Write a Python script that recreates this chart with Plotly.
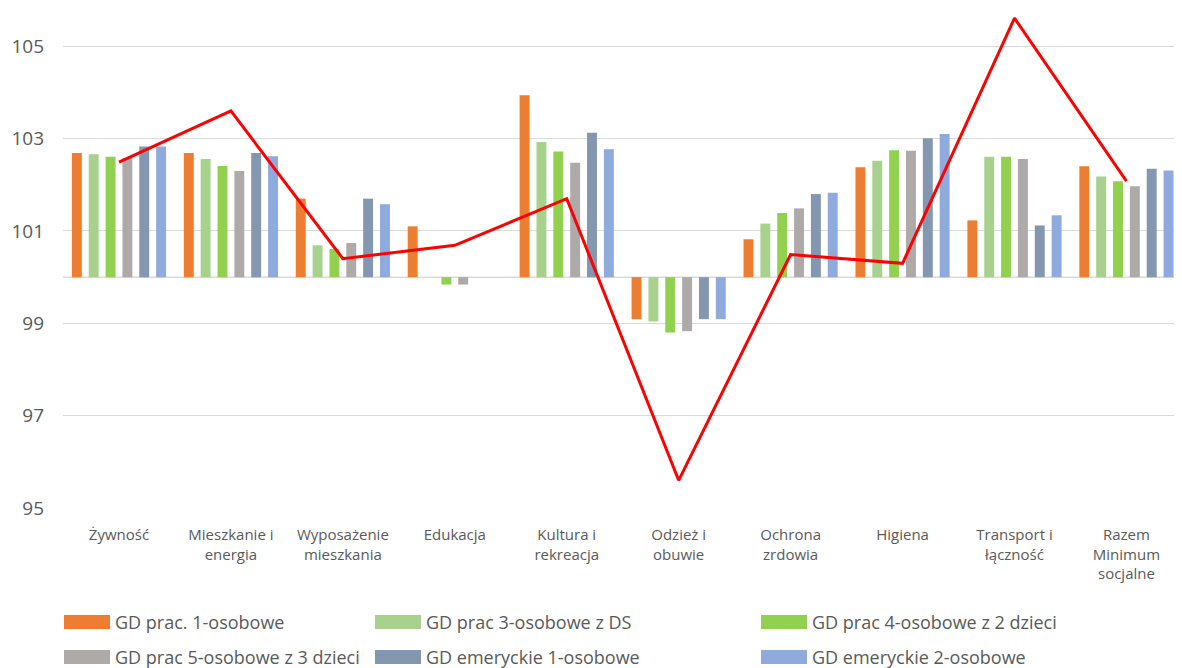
import plotly.graph_objects as go

categories = ["Żywność", "Mieszkanie i<br>energia", "Wyposażenie<br>mieszkania", "Edukacja",
              "Kultura i<br>rekreacja", "Odzież i<br>obuwie", "Ochrona<br>zrdowia", "Higiena",
              "Transport i<br>łączność", "Razem<br>Minimum<br>socjalne"]

series_names = ["GD prac. 1-osobowe", "GD prac 3-osobowe z DS", "GD prac 4-osobowe z 2 dzieci",
                "GD prac 5-osobowe z 3 dzieci", "GD emeryckie 1-osobowe", "GD emeryckie 2-osobowe"]
series_colors = ["#ED7D31", "#A9D18E", "#92D050", "#AEAAAA", "#8497B0", "#8FAADC"]

s1 = [102.69, 102.69, 101.70, 101.10, 103.94, 99.09, 100.82, 102.38, 101.23, 102.40]
s2 = [102.66, 102.56, 100.69, 100.00, 102.93, 99.04, 101.16, 102.52, 102.61, 102.18]
s3 = [102.61, 102.41, 100.61, 99.84, 102.72, 98.80, 101.39, 102.75, 102.61, 102.08]
s4 = [102.58, 102.30, 100.74, 99.84, 102.48, 98.83, 101.49, 102.74, 102.56, 101.97]
s5 = [102.83, 102.69, 101.70, 100.00, 103.13, 99.09, 101.80, 103.01, 101.12, 102.35]
s6 = [102.83, 102.62, 101.58, 100.00, 102.77, 99.09, 101.83, 103.10, 101.34, 102.31]
series_values = [s1, s2, s3, s4, s5, s6]

line_values = [102.49, 103.60, 100.40, 100.69, 101.70, 95.60, 100.49, 100.30, 105.61, 102.08]

base_value = 100
y_ticks = [95, 97, 99, 101, 103, 105]

FONT = "Open Sans"
TXT = "#595959"

fig = go.Figure()
for name, color, vals in zip(series_names, series_colors, series_values):
    fig.add_trace(go.Bar(
        x=categories, y=[v - base_value for v in vals], base=base_value,
        name=name, marker=dict(color=color, line=dict(width=0)), showlegend=False))

fig.add_trace(go.Scatter(x=categories, y=line_values, mode="lines",
                         line=dict(color="#FF0000", width=3), showlegend=False))

# horizontal axis line at 100
fig.add_shape(type="line", xref="paper", yref="y", x0=0, x1=1, y0=base_value, y1=base_value,
              line=dict(color="#D9D9D9", width=1.5), layer="below")

# page body has an 8px default offset
OFF = 8
W, H = 1182 - 2 * OFF, 668 - OFF
plot_bot_img = 508
ml, mt = 63 - OFF, 0
mb = H - (plot_bot_img - OFF)
pw, ph = W - ml, H - mt - mb

def px(xp):
    return (xp - OFF - ml) / pw

def py(yp):
    return (ph - (yp - OFF - mt)) / ph

# manual legend (Excel style wide swatches)
col_x = [64, 375, 761]
row_y = [622, 657]
for i, (name, color) in enumerate(zip(series_names, series_colors)):
    r, c = divmod(i, 3)
    x0 = col_x[c]
    yc = row_y[r]
    fig.add_shape(type="rect", xref="paper", yref="paper",
                  x0=px(x0), x1=px(x0 + 46), y0=py(yc + 7), y1=py(yc - 7),
                  fillcolor=color, line=dict(width=0))
    fig.add_annotation(xref="paper", yref="paper", x=px(x0 + 49), y=py(yc),
                       text=name, showarrow=False, xanchor="left", yanchor="middle",
                       font=dict(family=FONT, size=18, color=TXT))

fig.update_layout(
    width=W, height=H,
    margin=dict(l=ml, r=0, t=mt, b=mb, autoexpand=False),
    paper_bgcolor="white", plot_bgcolor="white",
    barmode="group", bargap=0.097, bargroupgap=0.41,
    font=dict(family=FONT, color=TXT),
    xaxis=dict(type="category", range=[-0.5, 9.425], showgrid=False, showline=False,
               automargin=False, ticks="", ticklabelstandoff=16,
               tickfont=dict(family=FONT, size=15, color=TXT), fixedrange=True),
    yaxis=dict(range=[95, 105.83], tickvals=y_ticks, showgrid=True, gridcolor="#D9D9D9",
               gridwidth=1.2, zeroline=False, showline=False, ticks="", automargin=False,
               tickfont=dict(family=FONT, size=19, color=TXT), ticklabelstandoff=18),
)

fig.write_html("out.html")
